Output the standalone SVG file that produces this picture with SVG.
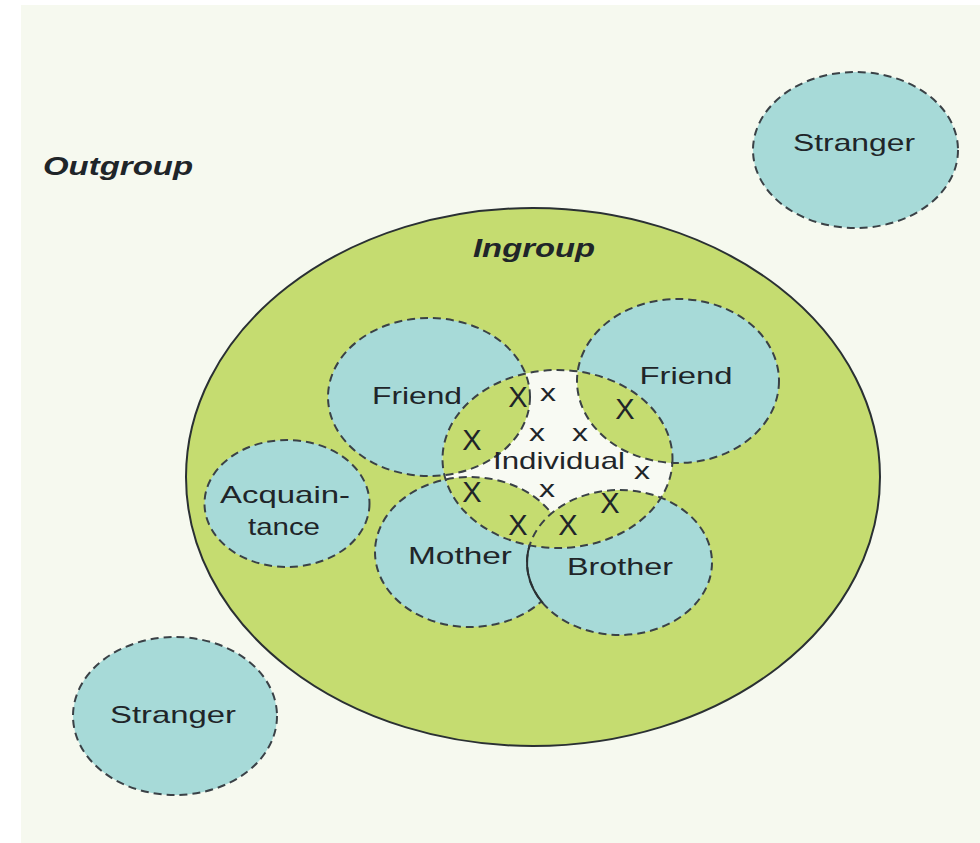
<svg xmlns="http://www.w3.org/2000/svg" width="980" height="843" viewBox="0 0 980 843">
<style>
  text{font-family:"Liberation Sans",Arial,sans-serif;fill:#1f2529;}
  .lbl{font-size:24px;text-anchor:middle;}
  .grp{font-size:25px;font-weight:bold;font-style:italic;}
  .big{font-size:29px;text-anchor:middle;}
  .small{font-size:24px;text-anchor:middle;}
  .teal{fill:#a7dad8;}
  .green{fill:#c5dc70;}
  .dash{fill:none;stroke:#3a4146;stroke-width:2;stroke-dasharray:8 5;}
  .solid{fill:none;stroke:#2a3033;stroke-width:2;}
</style>
<defs>
  <clipPath id="indClip"><ellipse cx="557.5" cy="459" rx="115" ry="89"/></clipPath>
</defs>
<rect width="980" height="843" fill="#ffffff"/>
<rect x="21" y="5" width="959" height="838" fill="#f6f9ef"/>

<g id="outgroup">
  <text class="grp" x="43" y="175" textLength="150" lengthAdjust="spacingAndGlyphs">Outgroup</text>
</g>

<g id="stranger-top">
  <ellipse class="teal" cx="855.5" cy="150" rx="102.5" ry="78"/>
  <ellipse class="dash" cx="855.5" cy="150" rx="102.5" ry="78"/>
  <text class="lbl" x="854" y="151" textLength="122" lengthAdjust="spacingAndGlyphs">Stranger</text>
</g>

<g id="stranger-bottom">
  <ellipse class="teal" cx="175" cy="716" rx="102" ry="79"/>
  <ellipse class="dash" cx="175" cy="716" rx="102" ry="79"/>
  <text class="lbl" x="173" y="723" textLength="126" lengthAdjust="spacingAndGlyphs">Stranger</text>
</g>

<g id="ingroup">
  <ellipse class="green" cx="533" cy="477" rx="347" ry="269"/>
  <ellipse class="solid" cx="533" cy="477" rx="347" ry="269"/>
  <text class="grp" x="534" y="257" text-anchor="middle" textLength="122" lengthAdjust="spacingAndGlyphs">Ingroup</text>
</g>

<g id="acquaintance">
  <ellipse class="teal" cx="287" cy="503.5" rx="82.5" ry="63.5"/>
  <ellipse class="dash" cx="287" cy="503.5" rx="82.5" ry="63.5"/>
  <text class="lbl" x="285" y="503" textLength="130" lengthAdjust="spacingAndGlyphs">Acquain-</text>
  <text class="lbl" x="284" y="535" textLength="72" lengthAdjust="spacingAndGlyphs">tance</text>
</g>

<g id="friend-left">
  <ellipse class="teal" cx="429" cy="397" rx="101" ry="79"/>
  <ellipse class="dash" cx="429" cy="397" rx="101" ry="79"/>
</g>

<g id="friend-right">
  <ellipse class="teal" cx="678" cy="381" rx="101" ry="82"/>
  <ellipse class="dash" cx="678" cy="381" rx="101" ry="82"/>
</g>

<g id="mother">
  <ellipse class="teal" cx="470" cy="552" rx="95" ry="75"/>
  <ellipse class="dash" cx="470" cy="552" rx="95" ry="75"/>
</g>

<g id="brother">
  <ellipse class="teal" cx="619.5" cy="562.5" rx="92.5" ry="72.5"/>
  <ellipse class="dash" cx="619.5" cy="562.5" rx="92.5" ry="72.5"/>
  <path class="solid" d="M530.4,543 A92.5,72.5 0 0 0 542.8,603"/>
</g>

<g id="individual">
  <g clip-path="url(#indClip)">
    <rect x="440" y="368" width="236" height="182" fill="#f8faf3"/>
    <ellipse class="green" cx="429" cy="397" rx="101" ry="79"/>
    <ellipse class="dash" cx="429" cy="397" rx="101" ry="79"/>
    <ellipse class="green" cx="678" cy="381" rx="101" ry="82"/>
    <ellipse class="dash" cx="678" cy="381" rx="101" ry="82"/>
    <ellipse class="green" cx="470" cy="552" rx="95" ry="75"/>
    <ellipse class="dash" cx="470" cy="552" rx="95" ry="75"/>
    <ellipse class="green" cx="619.5" cy="562.5" rx="92.5" ry="72.5"/>
    <ellipse class="dash" cx="619.5" cy="562.5" rx="92.5" ry="72.5"/>
  </g>
  <ellipse class="dash" cx="557.5" cy="459" rx="115" ry="89"/>
  <text class="lbl" x="559" y="469" textLength="132" lengthAdjust="spacingAndGlyphs">Individual</text>
</g>

<g id="labels">
  <text class="lbl" x="417" y="404" textLength="90" lengthAdjust="spacingAndGlyphs">Friend</text>
  <text class="lbl" x="686" y="384" textLength="93" lengthAdjust="spacingAndGlyphs">Friend</text>
  <text class="lbl" x="460" y="564" textLength="104" lengthAdjust="spacingAndGlyphs">Mother</text>
  <text class="lbl" x="620" y="575" textLength="106" lengthAdjust="spacingAndGlyphs">Brother</text>
</g>

<g id="marks">
  <text class="big" x="518" y="407">X</text>
  <text class="big" x="625" y="419">X</text>
  <text class="big" x="472" y="450">X</text>
  <text class="big" x="472" y="502">X</text>
  <text class="big" x="610" y="513">X</text>
  <text class="big" x="518" y="535">X</text>
  <text class="big" x="568" y="535">X</text>
  <text class="small" x="548" y="401" textLength="16" lengthAdjust="spacingAndGlyphs">x</text>
  <text class="small" x="537" y="441" textLength="16" lengthAdjust="spacingAndGlyphs">x</text>
  <text class="small" x="580" y="441" textLength="16" lengthAdjust="spacingAndGlyphs">x</text>
  <text class="small" x="642" y="479" textLength="16" lengthAdjust="spacingAndGlyphs">x</text>
  <text class="small" x="547" y="497" textLength="16" lengthAdjust="spacingAndGlyphs">x</text>
</g>

<g id="connectors"></g>
</svg>
